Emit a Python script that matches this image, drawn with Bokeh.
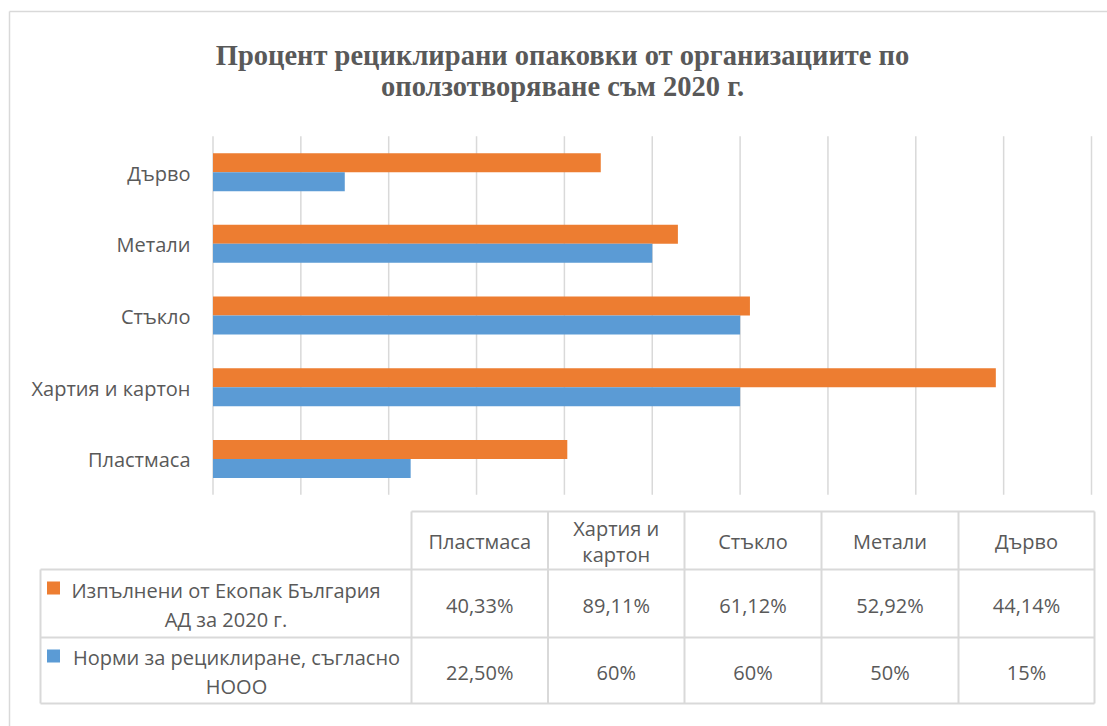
from bokeh.plotting import figure
from bokeh.models import Range1d, ColumnDataSource
from bokeh.core.properties import value
from bokeh.embed import file_html
from bokeh.resources import INLINE

# ---------------- data ----------------
categories = ["Пластмаса", "Хартия и картон", "Стъкло", "Метали", "Дърво"]
table_headers = ["Пластмаса", "Хартия и\nкартон", "Стъкло", "Метали", "Дърво"]
ekopak = [40.33, 89.11, 61.12, 52.92, 44.14]
norms = [22.50, 60, 60, 50, 15]
series_names = ["Изпълнени от Екопак България\nАД за 2020 г.",
                "Норми за рециклиране, съгласно\nНООО"]
x_ticks = [0, 10, 20, 30, 40, 50, 60, 70, 80, 90, 100]
title_lines = ["Процент рециклирани опаковки от организациите по",
               "оползотворяване съм 2020 г."]

ORANGE = "#ED7D31"
BLUE = "#5B9BD5"
GRID = "#D9D9D9"
TXT = "#595959"
FONT = value("Open Sans")

W, H = 1107, 726
X0, X100 = 212.5, 1091.0
SX = (X100 - X0) / 100.0


def px(xp):
    return (xp - X0) / SX


def fmt(v):
    if float(v).is_integer():
        return f"{int(v)}%"
    return f"{v:.2f}".replace(".", ",") + "%"


p = figure(width=W, height=H, output_backend="svg", toolbar_location=None,
           x_range=Range1d(px(0), px(W)), y_range=Range1d(H, 0),
           min_border=0, min_border_left=0, min_border_right=0,
           min_border_top=0, min_border_bottom=0)
p.xaxis.visible = False
p.yaxis.visible = False
p.xgrid.visible = False
p.ygrid.visible = False
p.outline_line_color = None
p.background_fill_color = "white"
p.border_fill_color = "white"

# outer chart border
p.segment(x0=[px(9)], y0=[11], x1=[px(W + 5)], y1=[11], line_color=GRID, line_width=1.5)
p.segment(x0=[px(9)], y0=[11], x1=[px(9)], y1=[H + 5], line_color=GRID, line_width=1.5)

# title
p.text(x=[px(562)] * 2, y=[55, 86], text=title_lines, text_align="center",
       text_baseline="middle", text_font=value("Liberation Serif"),
       text_font_style="bold", text_font_size="28.5px", text_color=TXT)

# plot area geometry
TOP, BAND = 135.8, 71.7
n = len(categories)
centers = [TOP + (n - 1 - i + 0.5) * BAND for i in range(n)]
BAR_H = 19
plot_bottom = TOP + n * BAND

# gridlines
p.segment(x0=x_ticks, x1=x_ticks, y0=[TOP] * len(x_ticks), y1=[plot_bottom] * len(x_ticks),
          line_color=GRID, line_width=1.5)

# bars
src = ColumnDataSource(dict(cat=categories, ekopak=ekopak, norms=norms,
                            yo=[c - BAR_H / 2 for c in centers],
                            yb=[c + BAR_H / 2 for c in centers]))
p.hbar(y="yo", left=0, right="ekopak", height=BAR_H, source=src, fill_color=ORANGE, line_color=None)
p.hbar(y="yb", left=0, right="norms", height=BAR_H, source=src, fill_color=BLUE, line_color=None)

# category labels
p.text(x=[px(190)] * n, y=[c + 1 for c in centers], text=categories, text_align="right",
       text_baseline="middle", text_font=FONT, text_font_size="20px", text_color=TXT)

# ---------------- data table ----------------
col_edges = [411, 547.5, 684, 821, 958, 1094]
T_TOP, R1, R2, T_BOT = 511, 569, 637, 703
LEG_L = 40
# horizontal lines
p.segment(x0=[px(col_edges[0]), px(LEG_L), px(LEG_L), px(LEG_L)],
          x1=[px(col_edges[-1])] * 4,
          y0=[T_TOP, R1, R2, T_BOT], y1=[T_TOP, R1, R2, T_BOT],
          line_color=GRID, line_width=2)
# vertical lines
p.segment(x0=[px(e) for e in col_edges], x1=[px(e) for e in col_edges],
          y0=[T_TOP] * len(col_edges), y1=[T_BOT] * len(col_edges),
          line_color=GRID, line_width=2)
p.segment(x0=[px(LEG_L)], x1=[px(LEG_L)], y0=[R1], y1=[T_BOT], line_color=GRID, line_width=2)

col_centers = [(col_edges[i] + col_edges[i + 1]) / 2 for i in range(n)]
LINE_H = 28
# headers
hx, hy, ht = [], [], []
for cx, h in zip(col_centers, table_headers):
    lines = h.split("\n")
    mid = (T_TOP + R1) / 2 + 1
    start = mid - (len(lines) - 1) * LINE_H / 2 * 0.95
    for k, ln in enumerate(lines):
        hx.append(px(cx)); hy.append(start + k * LINE_H * 0.95); ht.append(ln)
p.text(x=hx, y=hy, text=ht, text_align="center", text_baseline="middle",
       text_font=FONT, text_font_size="20px", text_color=TXT)

# values
p.text(x=[px(c) for c in col_centers], y=[(R1 + R2) / 2 + 2] * n, text=[fmt(v) for v in ekopak],
       text_align="center", text_baseline="middle", text_font=FONT, text_font_size="20px", text_color=TXT)
p.text(x=[px(c) for c in col_centers], y=[(R2 + T_BOT) / 2 + 2] * n, text=[fmt(v) for v in norms],
       text_align="center", text_baseline="middle", text_font=FONT, text_font_size="20px", text_color=TXT)

# legend keys and series names
row_mids = [(R1 + R2) / 2, (R2 + T_BOT) / 2]
key_y = [587.5, 655.5]
p.rect(x=[px(53)] * 2, y=key_y, width=13 / SX, height=13, fill_color=[ORANGE, BLUE], line_color=None)
name_centers = [225.5, 236]
lx, ly, lt = [], [], []
for rm, nc, name in zip(row_mids, name_centers, series_names):
    lines = name.split("\n")
    for k, ln in enumerate(lines):
        lx.append(px(nc)); ly.append(rm - 14.5 + k * 29 + 1); lt.append(ln)
p.text(x=lx, y=ly, text=lt, text_align="center", text_baseline="middle",
       text_font=FONT, text_font_size="20px", text_color=TXT)

open("out.html", "w").write(file_html(p, INLINE))
